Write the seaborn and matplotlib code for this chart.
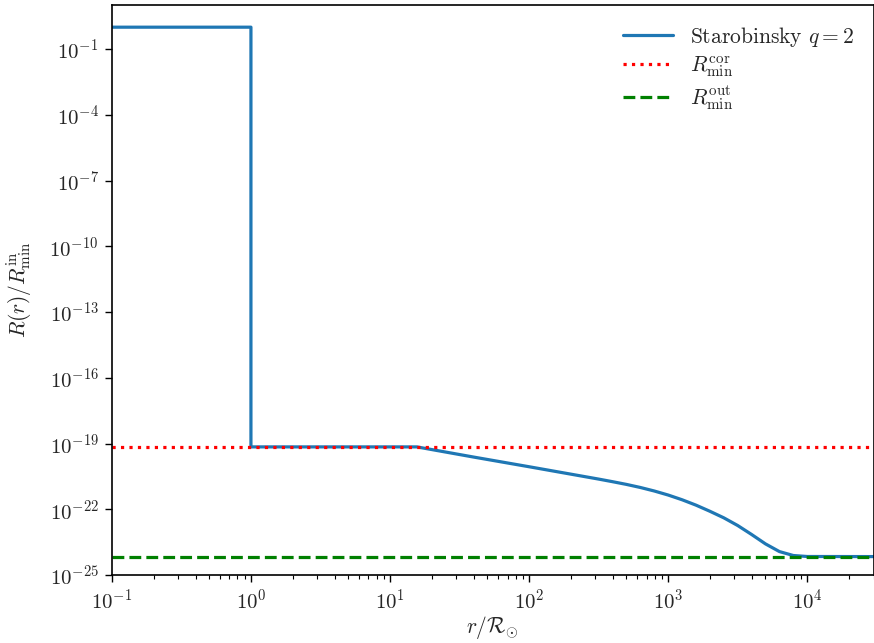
import numpy as np
import pandas as pd
import seaborn as sns
import matplotlib
matplotlib.use("Agg")
import matplotlib.pyplot as plt
from matplotlib.ticker import LogLocator, NullLocator

# Radial profile of the Starobinsky (q = 2) curvature, normalised to R_min^in
r_vals = [0.1, 1.0, 1.0, 15.6, 40.0, 100.0, 250.0, 316.0, 398.0, 501.0,
          631.0, 794.0, 1000.0, 1259.0, 1585.0, 1995.0, 2512.0, 3162.0,
          3981.0, 5012.0, 6310.0, 7943.0, 10000.0, 30000.0]
R_vals = [1.0, 1.0, 7.0e-20, 7.0e-20, 2.4e-20, 8.7e-21, 3.1e-21, 2.38e-21,
          1.81e-21, 1.36e-21, 9.84e-22, 6.81e-22, 4.45e-22, 2.71e-22,
          1.54e-22, 8.09e-23, 4.06e-23, 1.81e-23, 7.05e-24, 2.62e-24,
          1.17e-24, 7.73e-25, 6.97e-25, 6.9e-25]

# Reference minimum curvature levels
R_min_cor = 7.0e-20
R_min_out = 6.9e-25

x_limits = (1e-1, 3e4)
y_limits = (1e-25, 1e1)
y_ticks = [1e-25, 1e-22, 1e-19, 1e-16, 1e-13, 1e-10, 1e-7, 1e-4, 1e-1]

sns.set_style("ticks")
plt.rcParams.update({
    "font.family": "serif",
    "font.serif": ["cmr10", "DejaVu Serif"],
    "mathtext.fontset": "cm",
    "axes.formatter.use_mathtext": True,
    "axes.unicode_minus": False,
    "font.size": 15,
    "xtick.direction": "out",
    "ytick.direction": "out",
})

df = pd.DataFrame({"r": r_vals, "R": R_vals})

fig = plt.figure(figsize=(8.74, 6.43), dpi=100)
ax = fig.add_axes([0.128, 0.1058, 0.8715, 0.886])

sns.lineplot(data=df, x="r", y="R", ax=ax, sort=False, estimator=None,
             color="#1f77b4", linewidth=2.3, label=r"Starobinsky $q=2$")
ax.axhline(R_min_cor, color="red", linestyle=":", linewidth=2.3,
           label=r"$R_{\rm min}^{\rm cor}$")
ax.axhline(R_min_out, color="green", linestyle="--", linewidth=2.3,
           label=r"$R_{\rm min}^{\rm out}$")

ax.set_xscale("log")
ax.set_yscale("log")
ax.set_xlim(*x_limits)
ax.set_ylim(*y_limits)
ax.set_yticks(y_ticks)
ax.yaxis.set_minor_locator(NullLocator())
ax.xaxis.set_minor_locator(LogLocator(base=10, subs=np.arange(2, 10), numticks=20))

ax.tick_params(axis="both", which="major", labelsize=15, length=5, width=1.0,
               color="black", pad=4.5)
ax.tick_params(axis="x", which="minor", length=3, width=0.8, color="black")
for s in ax.spines.values():
    s.set_color("black")
    s.set_linewidth(1.2)

ax.set_xlabel(r"$r/\mathcal{R}_{\odot}$", fontsize=15.5, labelpad=1)
ax.set_ylabel(r"$R(r)/R_{\rm min}^{\rm in}$", fontsize=15.5, labelpad=11)

leg = ax.legend(loc="upper right", frameon=False, fontsize=15.5,
                handlelength=2.3, borderaxespad=0.5, labelspacing=0.25)

fig.savefig("out.png", dpi=100)
